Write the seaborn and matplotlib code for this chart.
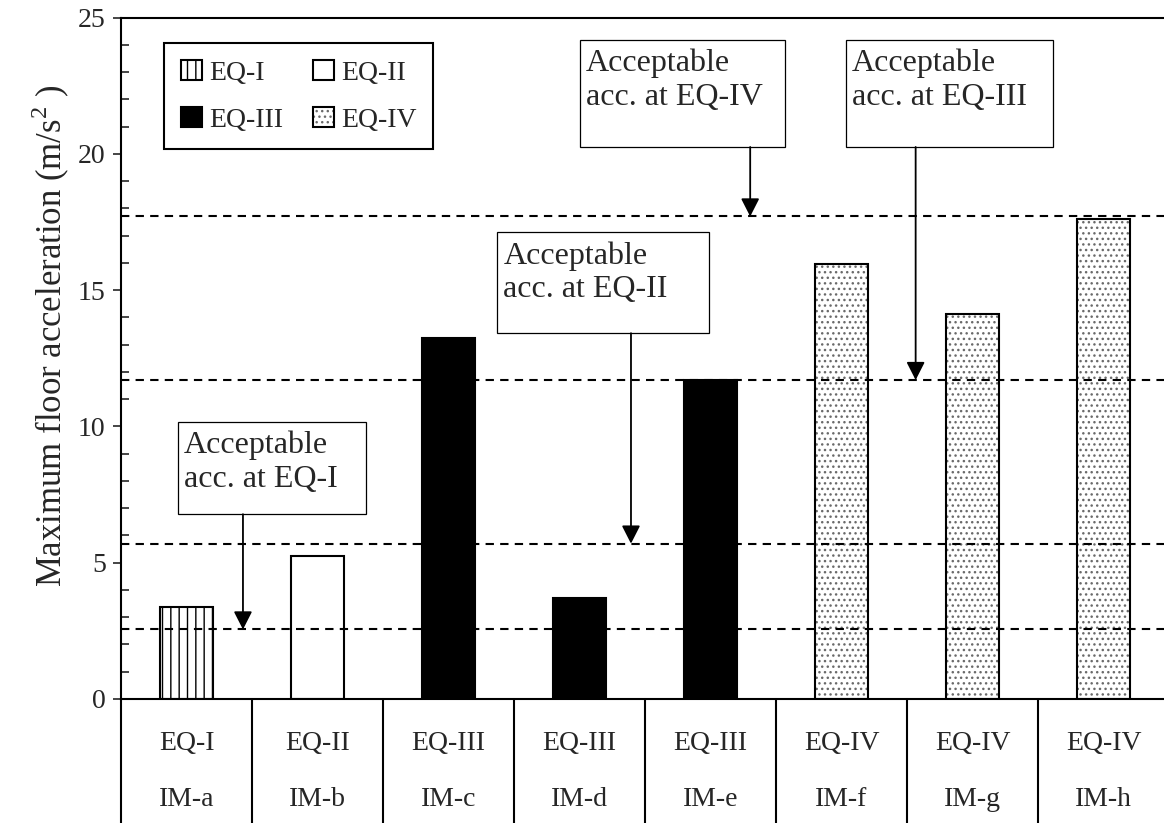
import matplotlib
matplotlib.use("Agg")
import matplotlib.pyplot as plt
import seaborn as sns
from matplotlib.patches import Patch, Rectangle

# ---- data ----
models = ["IM-a", "IM-b", "IM-c", "IM-d", "IM-e", "IM-f", "IM-g", "IM-h"]
levels = ["EQ-I", "EQ-II", "EQ-III", "EQ-III", "EQ-III", "EQ-IV", "EQ-IV", "EQ-IV"]
max_acc = [3.37, 5.25, 13.24, 3.72, 11.69, 15.97, 14.13, 17.62]

# acceptable floor acceleration for each earthquake level
limit_levels = ["EQ-I", "EQ-II", "EQ-III", "EQ-IV"]
limit_acc = [2.55, 5.70, 11.70, 17.70]

sns.set_theme(style="ticks")
plt.rcParams["font.family"] = ["Liberation Serif", "DejaVu Serif"]
plt.rcParams["mathtext.fontset"] = "custom"
plt.rcParams["mathtext.rm"] = "Liberation Serif"
plt.rcParams["hatch.linewidth"] = 1.0

styles = {
    "EQ-I": dict(facecolor="white", hatch="||", hatchcolor="black"),
    "EQ-II": dict(facecolor="white", hatch=None, hatchcolor="black"),
    "EQ-III": dict(facecolor="black", hatch=None, hatchcolor="black"),
    "EQ-IV": dict(facecolor="white", hatch="...", hatchcolor="#6a6a6a"),
}


def set_hatch_color(p, c):
    if hasattr(p, "set_hatchcolor"):
        p.set_hatchcolor(c)
    else:
        p._hatch_color = matplotlib.colors.to_rgba(c)


fig = plt.figure(figsize=(11.64, 8.23), dpi=100)
ax = fig.add_axes([121 / 1164, 124 / 823, 1048 / 1164, 681.5 / 823])

sns.barplot(x=models, y=max_acc, order=models, color="white",
            edgecolor="black", linewidth=1.5, width=0.4, saturation=1, ax=ax)
for bar, lev in zip(ax.patches, levels):
    bar.set_facecolor(styles[lev]["facecolor"])
    bar.set_hatch(styles[lev]["hatch"])
    set_hatch_color(bar, styles[lev]["hatchcolor"])
    bar.set_zorder(2)

# dashed limit lines
for v in limit_acc:
    ax.axhline(v, color="black", lw=1.5, ls=(0, (4, 3)), zorder=3)

# annotation boxes with arrows (box: x0, x1, y0, y1 ; arrow x)
boxes = {
    "EQ-I": (-0.063, 1.370, 6.78, 10.16, 0.431),
    "EQ-II": (2.373, 3.991, 13.42, 17.12, 3.393),
    "EQ-IV": (3.004, 4.571, 20.25, 24.17, 4.303),
    "EQ-III": (5.037, 6.613, 20.25, 24.17, 5.566),
}
for lev, (x0, x1, y0, y1, xa) in boxes.items():
    ax.add_patch(Rectangle((x0, y0), x1 - x0, y1 - y0, facecolor="white",
                           edgecolor="black", lw=0.9, zorder=5))
    ax.text(x0 + 0.045, y1 - 0.32, f"Acceptable\nacc. at {lev}", fontsize=23,
            ha="left", va="top", linespacing=1.22, zorder=6)
    tip = limit_acc[limit_levels.index(lev)]
    ax.annotate("", xy=(xa, tip), xytext=(xa, y0),
                arrowprops=dict(arrowstyle="-|>,head_length=0.55,head_width=0.28",
                                mutation_scale=20, lw=1.3, color="black",
                                shrinkA=0, shrinkB=0), zorder=6)

# legend
order = ["EQ-I", "EQ-III", "EQ-II", "EQ-IV"]
handles = []
for k in order:
    h = Patch(facecolor=styles[k]["facecolor"], hatch=styles[k]["hatch"],
              edgecolor="black", lw=1.5, label=k)
    handles.append(h)
leg = ax.legend(handles=handles, ncol=2, loc="upper left",
                bbox_to_anchor=(0.0413, 0.962), borderaxespad=0, fontsize=20,
                handlelength=0.75, handleheight=0.75, handletextpad=0.25,
                columnspacing=1.1, labelspacing=0.75, borderpad=0.6,
                fancybox=False, framealpha=1, edgecolor="black")
leg.get_frame().set_linewidth(1.5)
for h, k in zip(leg.legend_handles, order):
    set_hatch_color(h, styles[k]["hatchcolor"])

# axes styling
ax.set_xlim(-0.5, len(models) - 0.5)
ax.set_ylim(0, 25)
ax.set_yticks(range(0, 26, 5))
ax.set_yticks(range(0, 26), minor=True)
ax.tick_params(axis="y", which="major", direction="out", length=6, width=1.2,
               labelsize=20, pad=5)
ax.tick_params(axis="y", which="minor", direction="in", length=6, width=1.2)
ax.set_xticks([])
ax.set_xlabel("")
ax.set_ylabel(r"Maximum floor acceleration (m/s$^{2}$ )", fontsize=25)
ax.yaxis.set_label_coords(-0.047, 0.533)
for s in ax.spines.values():
    s.set_linewidth(1.5)
    s.set_color("black")

# category table below the axis
tr = ax.get_xaxis_transform()
for k in range(len(models) + 1):
    ax.plot([k - 0.5, k - 0.5], [0, -0.19], transform=tr, clip_on=False,
            color="black", lw=1.5)
for i, (lev, m) in enumerate(zip(levels, models)):
    ax.text(i, -0.0646, lev, transform=tr, ha="center", va="center", fontsize=20)
    ax.text(i, -0.148, m, transform=tr, ha="center", va="center", fontsize=20)

fig.savefig("out.png", dpi=100, facecolor="white")
